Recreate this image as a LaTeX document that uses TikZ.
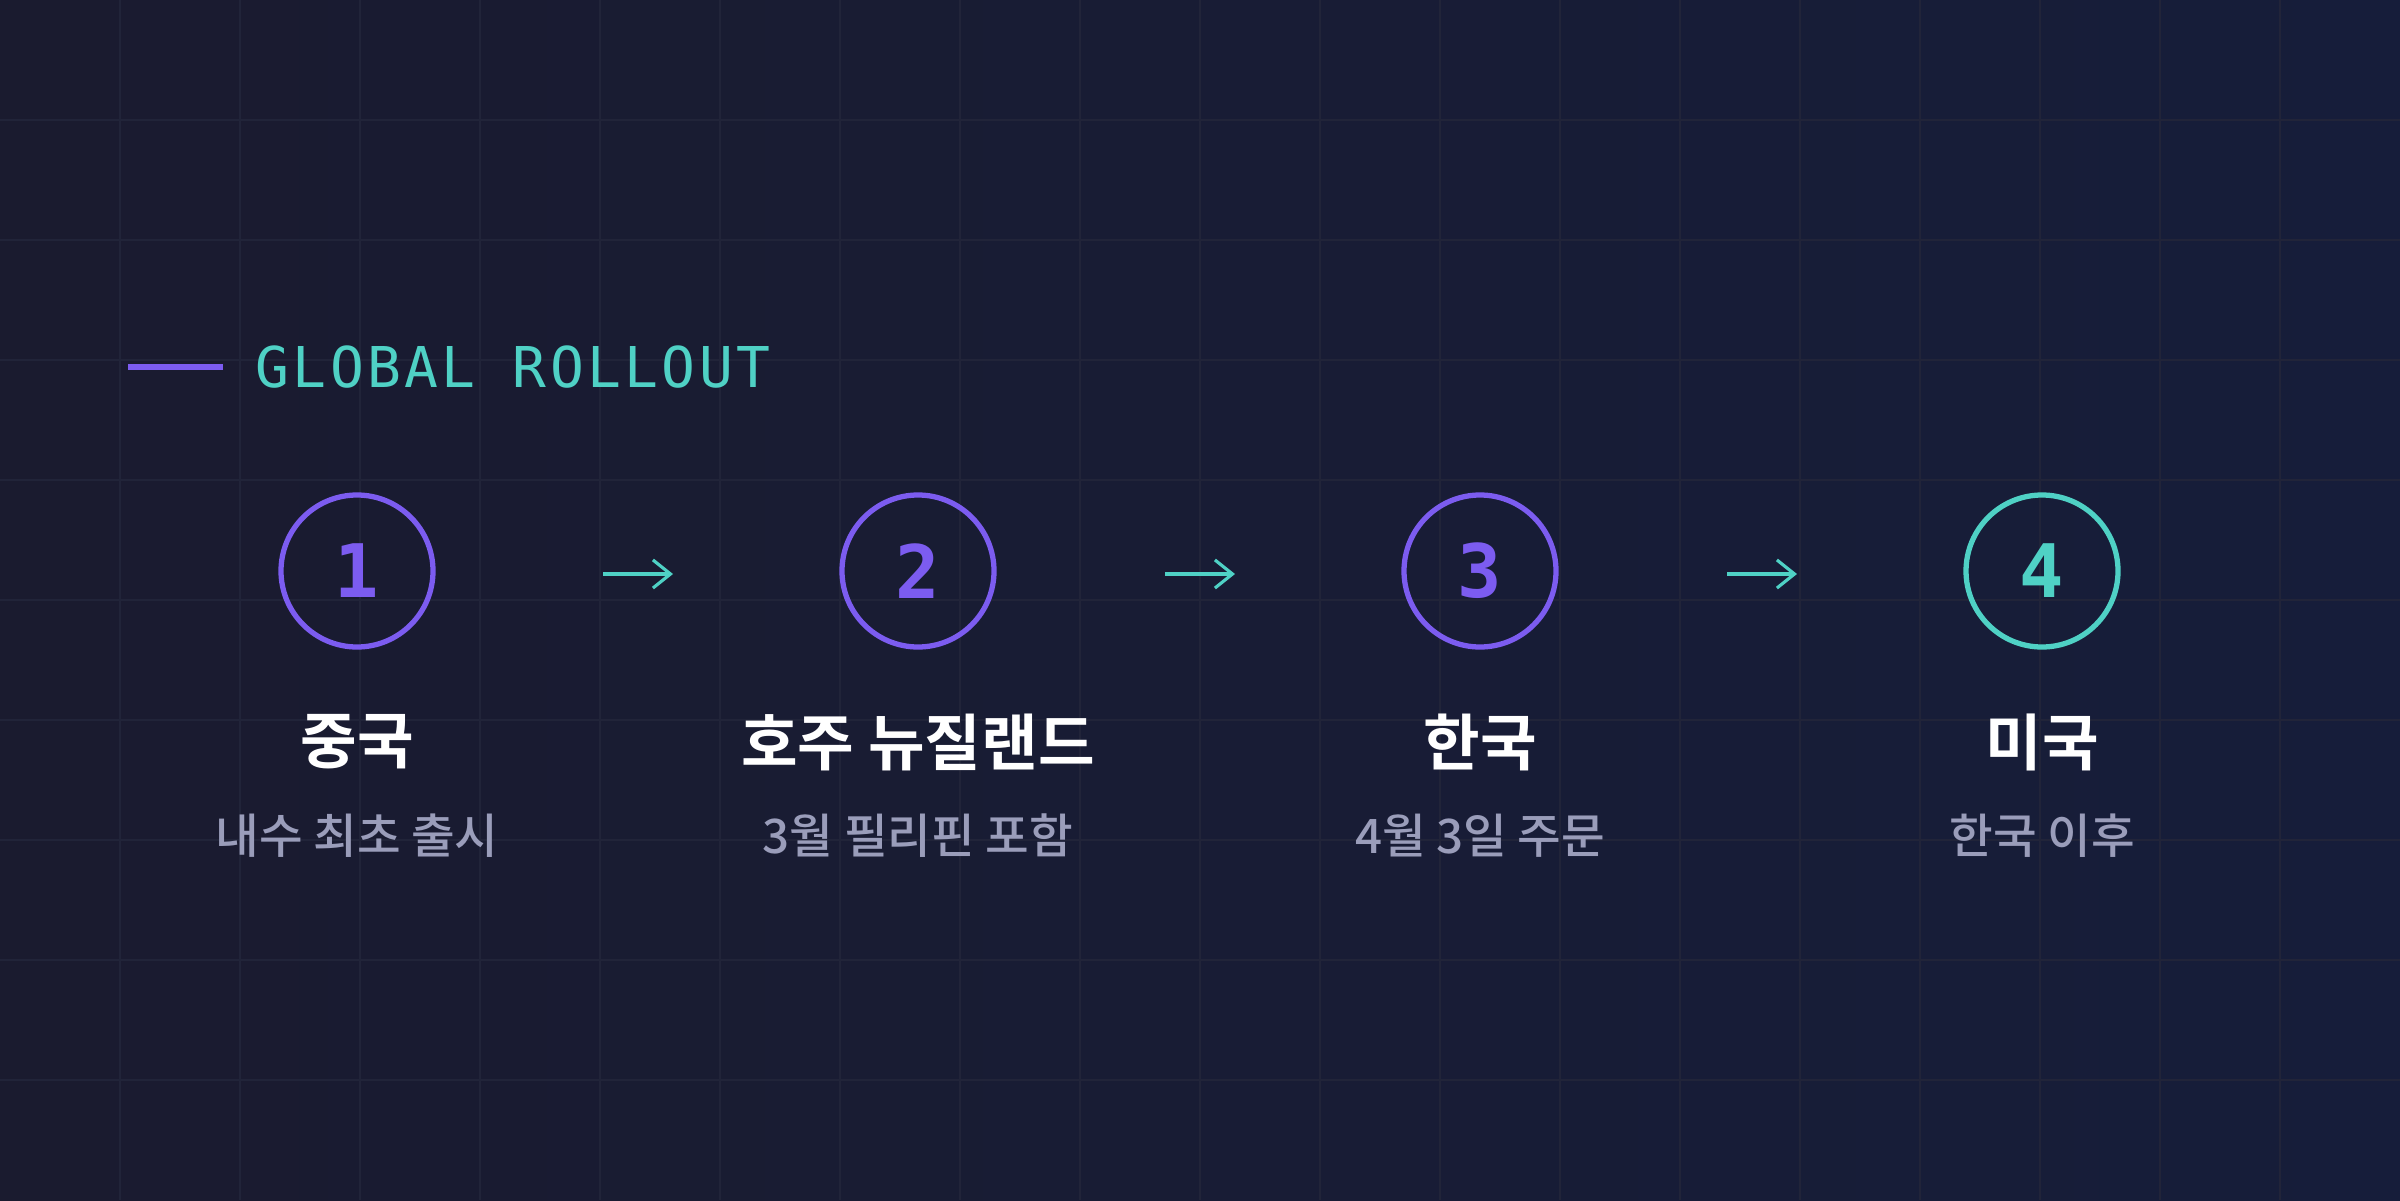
\documentclass[tikz,border=0pt]{standalone}
\usepackage{fontspec}
\newfontfamily\kr{Noto Sans CJK KR}[BoldFont={* Bold}]
\newfontfamily\krm{Noto Sans CJK KR Medium}
\newfontfamily\mono{DejaVu Sans Mono}[LetterSpace=6]
\newfontfamily\monob{DejaVu Sans Mono Bold}
\usetikzlibrary{arrows.meta}
\definecolor{bgA}{HTML}{1A1B2F}
\definecolor{bgB}{HTML}{161D3A}
\definecolor{gridc}{HTML}{212439}
\definecolor{purp}{HTML}{7C5CF0}
\definecolor{cyan2}{HTML}{4FD1C5}
\definecolor{subc}{HTML}{9A9DBA}
\tikzset{
  stepcirc/.style={circle,draw=purp,line width=1.5pt,minimum size=1.52cm,inner sep=0pt,text=purp,font=\monob\fontsize{21}{21}\selectfont},
  ttl/.style={text=white,font=\kr\bfseries\fontsize{17.5}{17.5}\selectfont,anchor=center},
  sub/.style={text=subc,font=\krm\fontsize{13.5}{13.5}\selectfont,anchor=center},
  arr/.style={draw=cyan2,line width=0.9pt,-{Straight Barb[length=5pt,width=8pt]}}
}
\begin{document}
\begin{tikzpicture}
\useasboundingbox (0,0) rectangle (24,12);
\shade[left color=bgA,right color=bgB] (0,0) rectangle (24,12);
\foreach \x in {1.2,2.4,...,22.9} \draw[gridc,line width=0.5pt] (\x,0) -- (\x,12);
\foreach \y in {1.2,2.4,...,10.9} \draw[gridc,line width=0.5pt] (0,\y) -- (24,\y);
\coordinate (ls) at (1.28,8.33); \coordinate (le) at (2.23,8.33);
\draw[purp,line width=1.7pt] (ls) -- (le);
\node[anchor=west,inner sep=0pt,text=cyan2,font=\mono\fontsize{16}{16}\selectfont] (hdr) at (2.55,8.33) {GLOBAL ROLLOUT};
\node[stepcirc] (c1) at (3.57,6.29) {1};
\node[stepcirc] (c2) at (9.18,6.29) {2};
\node[stepcirc] (c3) at (14.80,6.29) {3};
\node[stepcirc,draw=cyan2,text=cyan2] (c4) at (20.42,6.29) {4};
\coordinate (a1s) at (6.03,6.26); \coordinate (a1e) at (6.73,6.26);
\coordinate (a2s) at (11.65,6.26); \coordinate (a2e) at (12.35,6.26);
\coordinate (a3s) at (17.27,6.26); \coordinate (a3e) at (17.97,6.26);
\draw[arr] (a1s) -- (a1e);
\draw[arr] (a2s) -- (a2e);
\draw[arr] (a3s) -- (a3e);
\node[ttl] (t1) at (3.57,4.58) {중국};
\node[ttl] (t2) at (9.18,4.58) {호주 뉴질랜드};
\node[ttl] (t3) at (14.80,4.58) {한국};
\node[ttl] (t4) at (20.42,4.58) {미국};
\node[sub] (d1) at (3.57,3.64) {내수 최초 출시};
\node[sub] (d2) at (9.18,3.64) {3월 필리핀 포함};
\node[sub] (d3) at (14.80,3.64) {4월 3일 주문};
\node[sub] (d4) at (20.42,3.64) {한국 이후};
\end{tikzpicture}
\end{document}
